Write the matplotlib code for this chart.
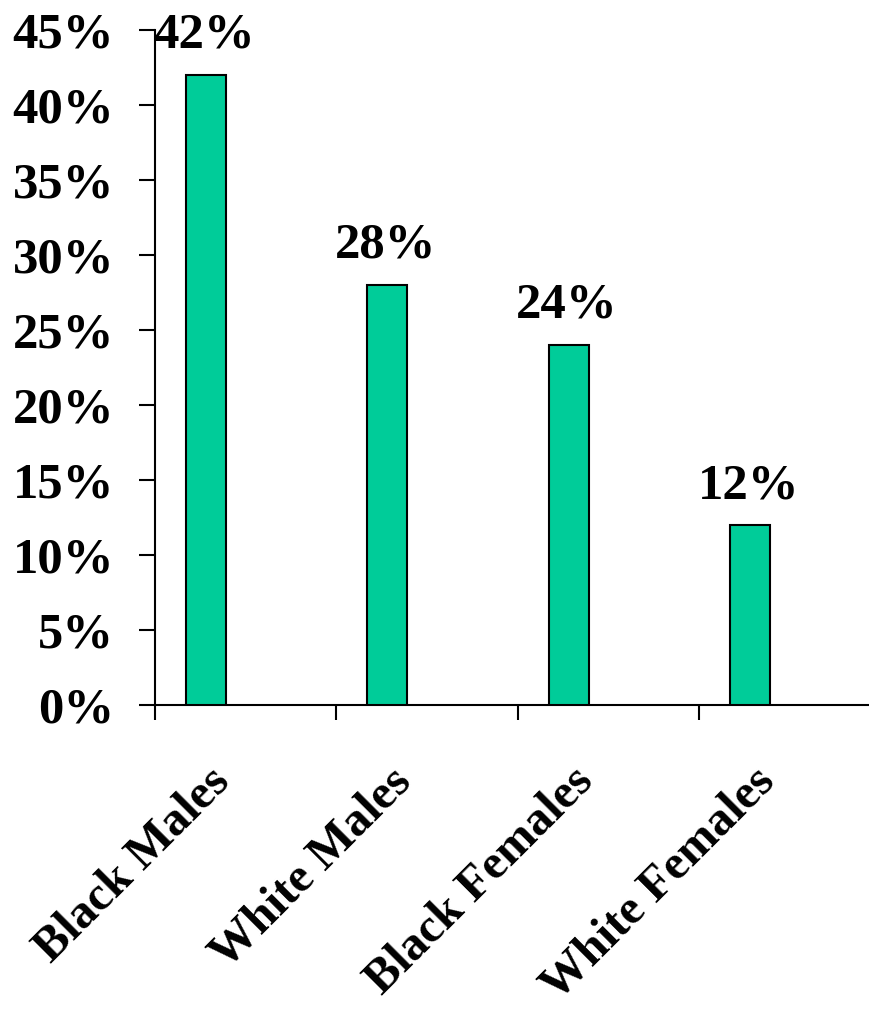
import matplotlib
matplotlib.use("Agg")
import matplotlib.pyplot as plt
import numpy as np

grupos = ["Black Males", "White Males", "Black Females", "White Females"]
valores = [42, 28, 24, 12]
etiquetas = ["42%", "28%", "24%", "12%"]
yticks = [0, 5, 10, 15, 20, 25, 30, 35, 40, 45]

plt.rcParams["font.family"] = ["Liberation Serif", "DejaVu Serif"]
plt.rcParams["font.weight"] = "bold"
fs = 36.5

fig = plt.figure(figsize=(8.7, 10.13), dpi=100)
ax = fig.add_axes([155 / 870, 308 / 1013, 715 / 870, 675 / 1013])

# barras desplazadas a la izquierda de cada categoría
pos = np.arange(len(grupos)) + 0.28
ax.bar(pos, valores, width=0.22, color="#00CC99", edgecolor="black", linewidth=1.5, zorder=3)

for x, v, lab in zip(pos, valores, etiquetas):
    ax.annotate(lab, xy=(x, v), xytext=(-2, 27), textcoords="offset pixels",
                ha="center", va="baseline", fontsize=fs, fontweight="bold")

for x, g in zip(pos, grupos):
    ax.annotate(g, xy=(x, 0), xytext=(33, -54), textcoords="offset pixels",
                ha="right", va="top", rotation=45, fontsize=35, fontweight="bold",
                annotation_clip=False)

ax.set_xlim(0, 715 / 181.5)
ax.set_ylim(0, 45)
ax.set_yticks(yticks)
ax.set_yticklabels([f"{t}%" for t in yticks], fontsize=fs, fontweight="bold")
ax.set_xticks([0, 1, 2, 3])
ax.set_xticklabels([])

for s in ["top", "right"]:
    ax.spines[s].set_visible(False)
for s in ["left", "bottom"]:
    ax.spines[s].set_linewidth(1.5)
ax.tick_params(axis="y", direction="out", length=11.5, width=1.5, pad=18)
ax.tick_params(axis="x", direction="out", length=11, width=1.5)

fig.savefig("out.png", dpi=100)
